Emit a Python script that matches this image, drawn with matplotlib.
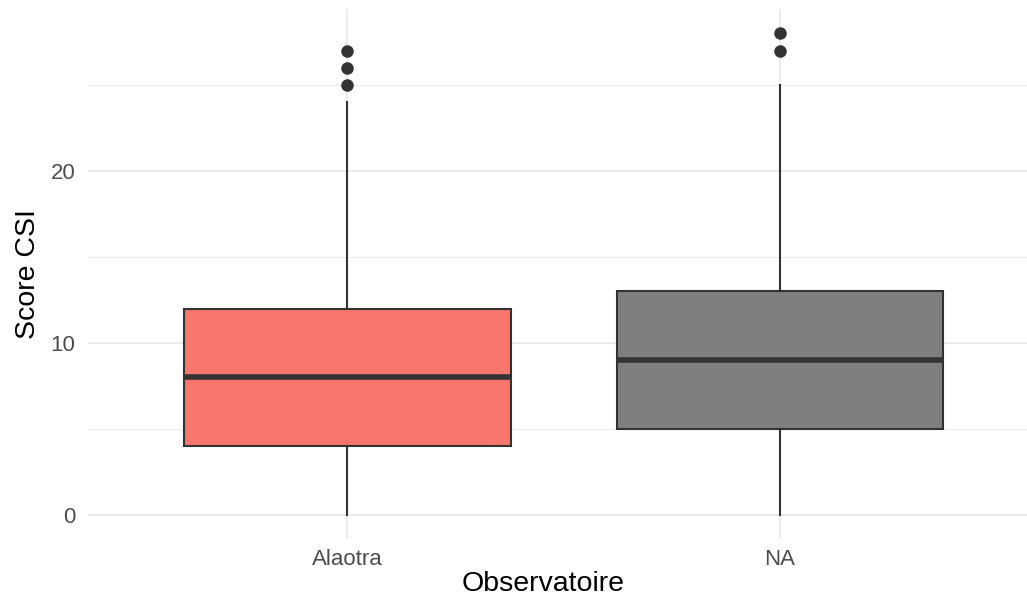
import matplotlib
matplotlib.use("Agg")
import matplotlib.pyplot as plt
from matplotlib.ticker import MultipleLocator

plt.rcParams['font.family'] = ['Liberation Sans', 'DejaVu Sans']

# box stats
groups = ['Alaotra', 'NA']
whislo = [0, 0]
q1 = [4, 5]
med = [8, 9]
q3 = [12, 13]
whishi = [24, 25]
fliers = [[25, 26, 27], [27, 28]]
colors = ['#F8766D', '#7F7F7F']

W, H = 1027, 606
fig = plt.figure(figsize=(W / 100, H / 100), dpi=100)
ax = fig.add_axes([88 / W, (H - 539) / H, (W - 88) / W, (539 - 9.3) / H])

stats = []
for i, g in enumerate(groups):
    stats.append(dict(label=g, whislo=whislo[i], q1=q1[i], med=med[i],
                      q3=q3[i], whishi=whishi[i], fliers=fliers[i]))

bp = ax.bxp(stats, positions=[1, 2], widths=0.755, patch_artist=True,
            showcaps=False, zorder=3,
            boxprops=dict(edgecolor='#333333', linewidth=1.5),
            medianprops=dict(color='#333333', linewidth=4, solid_capstyle='butt'),
            whiskerprops=dict(color='#333333', linewidth=1.5),
            flierprops=dict(marker='o', markerfacecolor='#333333',
                            markeredgecolor='#333333', markersize=8))
for patch, c in zip(bp['boxes'], colors):
    patch.set_facecolor(c)

ax.set_xlim(0.4, 2 + (W - 780) / 432)
ax.set_ylim(-1.4, 29.4)
ax.yaxis.set_major_locator(MultipleLocator(10))
ax.yaxis.set_minor_locator(MultipleLocator(5))
ax.set_xticks([1, 2])
ax.set_xticklabels(groups)

ax.grid(True, which='major', color='#EBEBEB', linewidth=1.4, zorder=0)
ax.grid(True, which='minor', axis='y', color='#EBEBEB', linewidth=0.7, zorder=0)
ax.set_axisbelow(True)
for s in ax.spines.values():
    s.set_visible(False)
ax.tick_params(which='both', length=0, labelsize=16, labelcolor='#4D4D4D')
ax.tick_params(axis='x', pad=7)
ax.tick_params(axis='y', pad=9)

ax.set_xlabel('Observatoire', fontsize=20.5)
ax.xaxis.set_label_coords((543 - 88) / (W - 88), -0.06)
ax.xaxis.label.set_va('top')
ax.set_ylabel('Score CSI', fontsize=20.5, labelpad=7)

fig.savefig('out.png', dpi=100)
